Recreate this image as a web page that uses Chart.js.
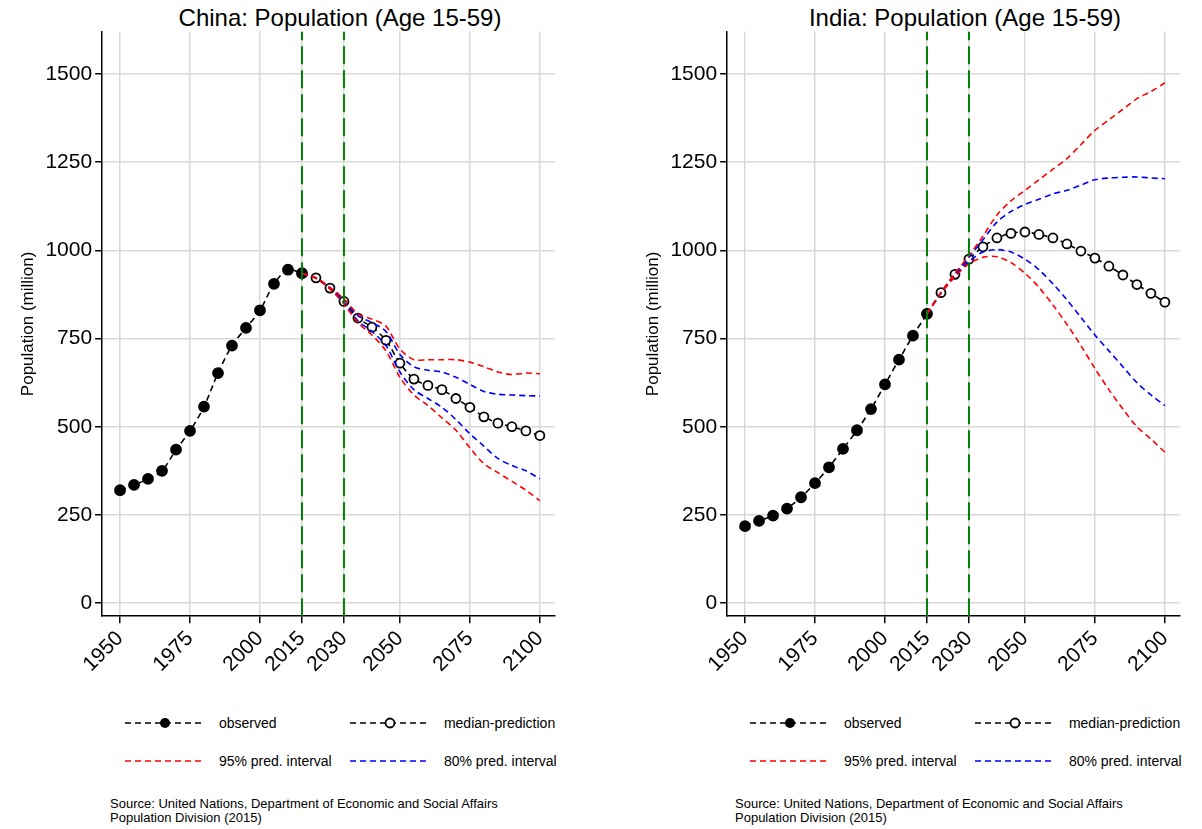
<!DOCTYPE html>
<html><head><meta charset="utf-8">
<script src="https://cdn.jsdelivr.net/npm/chart.js@4"></script>
<style>
body{margin:0;background:#fff;font-family:"Liberation Sans",Arial,sans-serif;}
.panel{position:absolute;top:0;width:601px;height:829px;}
.title{position:absolute;top:4px;left:100px;width:480px;text-align:center;font-size:24px;}
.cv{position:absolute;top:16px;left:0;width:601px;height:664px;}
.leg{position:absolute;font-size:14px;}
.src{position:absolute;left:110px;top:797px;font-size:13px;line-height:14px;}
</style></head><body>
<div class="panel" id="p0" style="left:0"></div>
<div class="panel" id="p1" style="left:625px"></div>
<script>
var obsYears = [1950,1955,1960,1965,1970,1975,1980,1985,1990,1995,2000,2005,2010,2015];
var predYears = [2015,2020,2025,2030,2035,2040,2045,2050,2055,2060,2065,2070,2075,2080,2085,2090,2095,2100];
var xTicks = [1950,1975,2000,2015,2030,2050,2075,2100];
var yTicks = [0,250,500,750,1000,1250,1500];

var chinaObs = [320,335,352,375,435,488,557,652,730,780,830,905,945,935];
var chinaMed = [935,922,893,855,808,782,745,680,635,617,605,580,555,528,510,500,488,475];
var chinaU95 = [935,922,895,862,820,805,785,720,690,690,690,690,683,670,655,648,652,650];
var chinaL95 = [935,920,890,848,795,760,715,640,590,560,525,490,440,395,370,345,320,290];
var chinaU80 = [935,922,894,860,815,795,770,705,670,660,655,640,620,600,592,590,588,587];
var chinaL80 = [935,921,892,852,800,770,730,655,605,580,555,520,480,445,410,390,375,352];

var indiaObs = [218,233,248,268,300,340,385,437,490,550,620,690,758,820];
var indiaMed = [820,880,932,975,1010,1035,1048,1052,1045,1035,1018,998,978,955,930,903,878,853];
var indiaU95 = [820,880,935,985,1040,1100,1140,1170,1200,1230,1260,1300,1340,1370,1400,1430,1450,1475];
var indiaL95 = [820,878,925,962,980,982,965,935,895,845,790,730,665,605,550,500,465,428];
var indiaU80 = [820,880,933,980,1030,1080,1110,1130,1145,1160,1170,1185,1200,1205,1207,1208,1205,1203];
var indiaL80 = [820,879,928,968,995,1002,995,975,945,905,860,810,760,715,670,625,590,560];

var vLines = [2015,2030];

function pts(xs, ys){ return xs.map(function(x,i){ return {x:x,y:ys[i]}; }); }

function line(data, color, dash, pr, fill){
    return {data:data, borderColor:color, borderWidth:1.6, borderDash:dash, pointRadius:pr,
        pointBackgroundColor:fill, pointBorderColor:'#000', pointBorderWidth:1.8, tension:0.3, fill:false};
}

function MakePanel(id, name, obs, med, u95, l95, u80, l80) {
    var p = document.getElementById(id);
    p.innerHTML = '<div class="title">' + name + ': Population (Age 15-59)</div>' +
        '<div class="cv"><canvas></canvas></div>' +
        '<div class="leg" style="left:125px;top:716px"><svg width="80" height="14"><line x1="0" y1="7" x2="80" y2="7" stroke="#000" stroke-width="1.6" stroke-dasharray="6,4"/><circle cx="40" cy="7" r="5" fill="#000"/></svg> <span style="position:relative;top:-2px;left:10px">observed</span></div>' +
        '<div class="leg" style="left:350px;top:716px"><svg width="80" height="14"><line x1="0" y1="7" x2="80" y2="7" stroke="#000" stroke-width="1.6" stroke-dasharray="6,4"/><circle cx="40" cy="7" r="4.5" fill="#fff" stroke="#000" stroke-width="1.8"/></svg> <span style="position:relative;top:-2px;left:10px">median-prediction</span></div>' +
        '<div class="leg" style="left:125px;top:754px"><svg width="80" height="14"><line x1="0" y1="7" x2="80" y2="7" stroke="#f00" stroke-width="1.6" stroke-dasharray="6,4"/></svg> <span style="position:relative;top:-2px;left:10px">95% pred. interval</span></div>' +
        '<div class="leg" style="left:350px;top:754px"><svg width="80" height="14"><line x1="0" y1="7" x2="80" y2="7" stroke="#00f" stroke-width="1.6" stroke-dasharray="6,4"/></svg> <span style="position:relative;top:-2px;left:10px">80% pred. interval</span></div>' +
        '<div class="src">Source: United Nations, Department of Economic and Social Affairs<br>Population Division (2015)</div>';

    var ds = [];
    vLines.forEach(function(v){ ds.push({data:[{x:v,y:-37},{x:v,y:1620}], borderColor:'#008000', borderWidth:2, borderDash:[18,6], pointRadius:0}); });
    ds.push(line(pts(predYears,u95), '#f00', [6,4], 0, '#fff'));
    ds.push(line(pts(predYears,l95), '#f00', [6,4], 0, '#fff'));
    ds.push(line(pts(predYears,u80), '#00f', [6,4], 0, '#fff'));
    ds.push(line(pts(predYears,l80), '#00f', [6,4], 0, '#fff'));
    ds.push(line(pts(obsYears,obs), '#000', [6,4], 5, '#000'));
    ds.push(line(pts(predYears,med), '#000', [6,4], 4.5, '#fff'));

    new Chart(p.querySelector('canvas').getContext('2d'), {
        type:'line',
        data:{datasets:ds},
        options:{
            responsive:true, maintainAspectRatio:false, animation:false,
            layout:{padding:{top:0,right:46,left:14,bottom:0}},
            plugins:{legend:{display:false}, tooltip:{enabled:false}},
            scales:{
                x:{type:'linear', min:1943.6, max:2105.4,
                    afterBuildTicks:function(a){ a.ticks = xTicks.map(function(v){return {value:v};}); },
                    grid:{color:'#d9d9d9', lineWidth:1.5, tickColor:'#000', tickLength:7, drawTicks:true},
                    border:{color:'#000', width:1.5},
                    ticks:{color:'#000', font:{size:21, family:'Liberation Sans'}, maxRotation:45, minRotation:45, autoSkip:false,
                        callback:function(v){ return String(v); }}},
                y:{min:-37, max:1620,
                    afterBuildTicks:function(a){ a.ticks = yTicks.map(function(v){return {value:v};}); },
                    grid:{color:'#d9d9d9', lineWidth:1.5, tickColor:'#000', tickLength:7},
                    border:{color:'#000', width:1.5},
                    title:{display:true, text:'Population (million)', color:'#000', font:{size:17, family:'Liberation Sans'}},
                    ticks:{color:'#000', font:{size:21, family:'Liberation Sans'}, callback:function(v){ return String(v); }}}
            }
        }
    });
}

MakePanel('p0','China',chinaObs,chinaMed,chinaU95,chinaL95,chinaU80,chinaL80);
MakePanel('p1','India',indiaObs,indiaMed,indiaU95,indiaL95,indiaU80,indiaL80);
</script>
</body></html>
